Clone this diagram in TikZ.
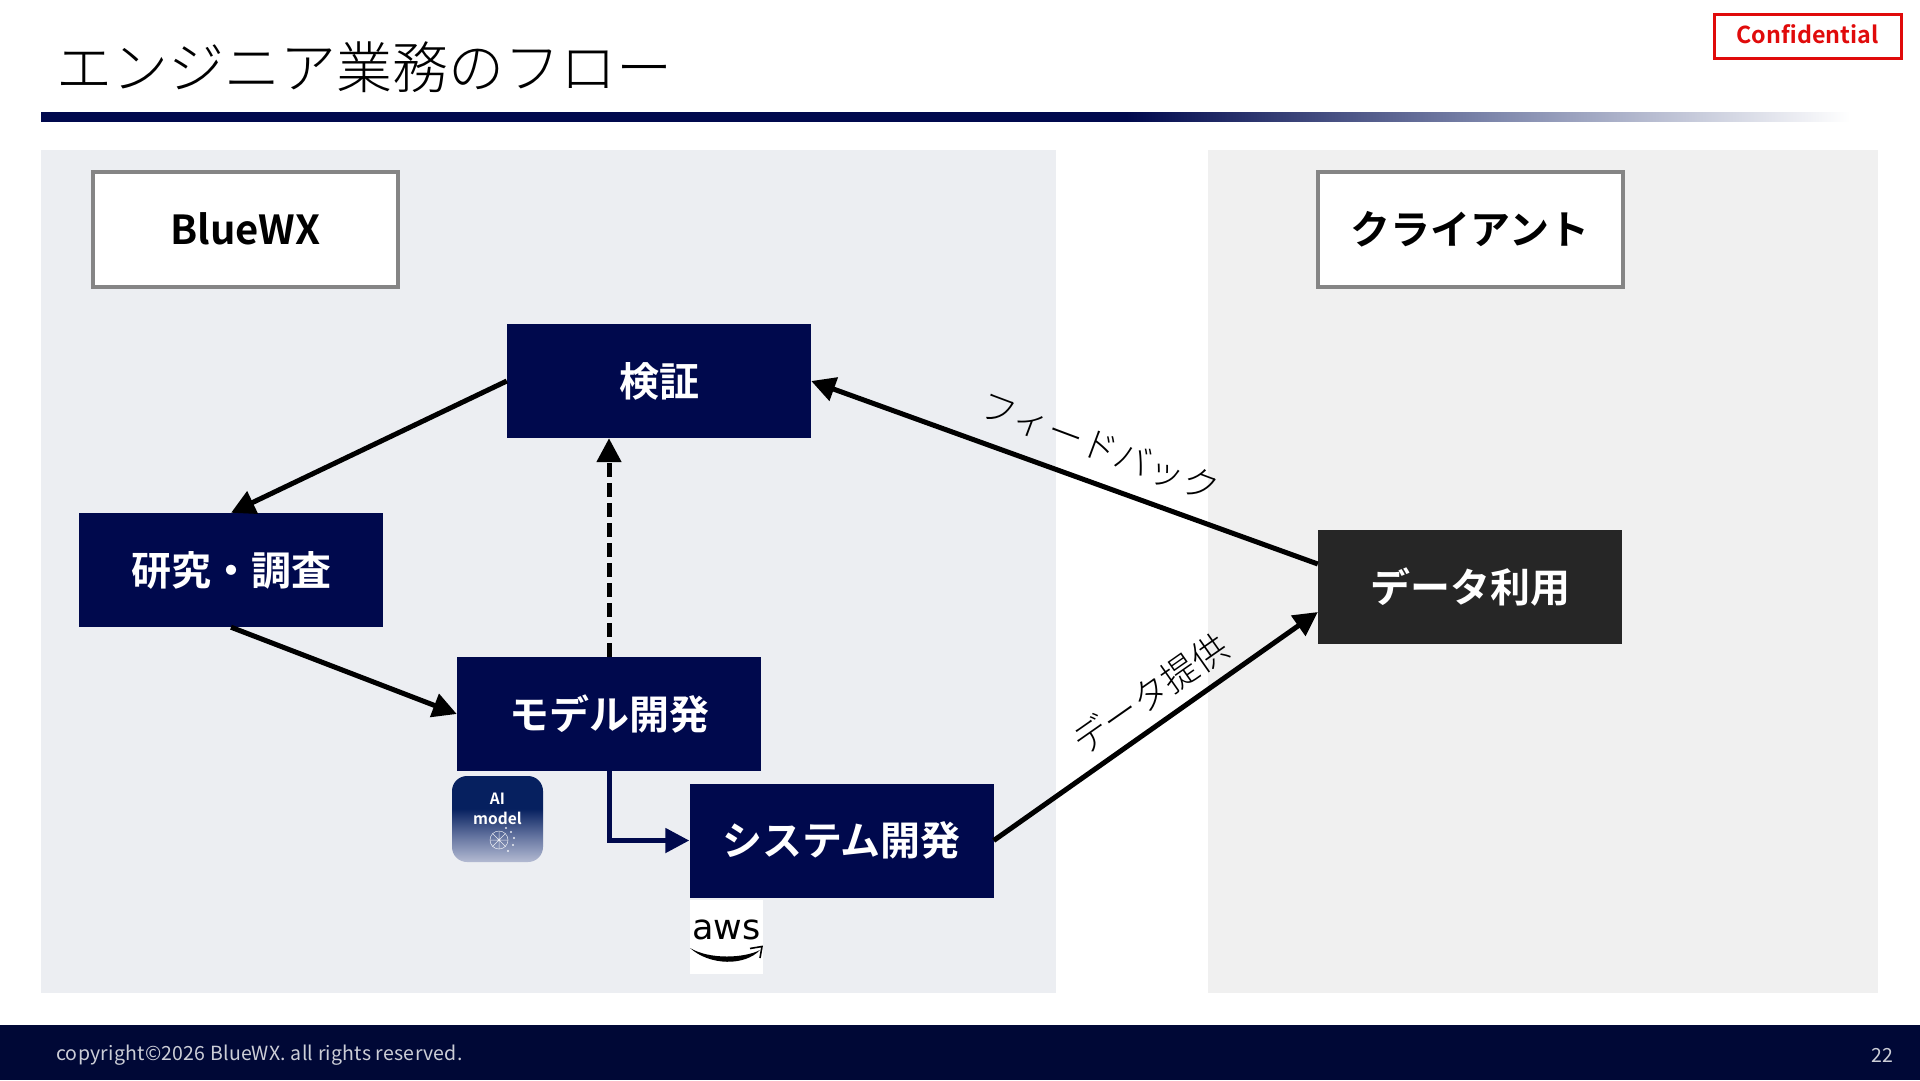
\documentclass[tikz,border=0pt]{standalone}
\usepackage{fontspec}
\usetikzlibrary{arrows.meta,calc}
\setmainfont{Noto Sans CJK JP}
\newfontfamily\jpbold{Noto Sans CJK JP Bold}
\newfontfamily\jplight{Noto Sans CJK JP Light}
\newfontfamily\jpreg{Noto Sans CJK JP}[LetterSpace=1.3]
\newfontfamily\awsfont{DejaVu Sans}
\definecolor{navy}{HTML}{00094D}
\definecolor{barmid}{HTML}{8089AD}
\definecolor{foot}{HTML}{000836}
\definecolor{panelL}{HTML}{ECEEF2}
\definecolor{panelR}{HTML}{F0F0F0}
\definecolor{dark}{HTML}{262626}
\definecolor{frameg}{HTML}{858585}
\definecolor{conf}{HTML}{E00B0B}
\definecolor{icontop}{HTML}{06205F}
\definecolor{iconmid}{HTML}{6474A0}
\definecolor{iconlow}{HTML}{B3BAD2}
\pgfdeclarehorizontalshading{barfade}{100bp}{color(0bp)=(navy);color(55bp)=(navy);color(65.3bp)=(barmid);color(75bp)=(white);color(100bp)=(white)}
\pgfdeclareverticalshading{iconfade}{100bp}{color(0bp)=(iconlow);color(25bp)=(iconlow);color(40bp)=(iconmid);color(56bp)=(icontop);color(100bp)=(icontop)}
\tikzset{
  x=1pt,y=-1pt,
  flowbox/.style={fill=navy,text=white,minimum width=304pt,minimum height=114pt,inner sep=0pt,font=\jpbold\fontsize{40}{40}\selectfont},
  hdrbox/.style={draw=frameg,line width=4pt,fill=white,text=black,minimum width=305pt,minimum height=115pt,inner sep=0pt,font=\jpbold\fontsize{40}{40}\selectfont},
  flowline/.style={line width=5pt,draw=black,-{Triangle[length=24pt,width=24pt]}},
  edgelabel/.style={inner sep=0pt,font=\jplight\fontsize{36}{36}\selectfont,text=black},
}
\begin{document}
\begin{tikzpicture}
\useasboundingbox (0,0) rectangle (1920,1080);
\fill[white] (0,0) rectangle (1920,1080);
% panels
\fill[panelL] (41,150) rectangle (1056,993);
\fill[panelR] (1208,150) rectangle (1878,993);
% title
\node[anchor=west,inner sep=0pt,font=\jplight\fontsize{56}{56}\selectfont] (title) at (56,67) {エンジニア業務のフロー};
\shade[shading=barfade] (41,112) rectangle (1850,121);
% confidential
\node[draw=conf,line width=3pt,text=conf,minimum width=187pt,minimum height=44pt,inner sep=0pt,font=\jpbold\fontsize{23.3}{23.3}\selectfont] (conf) at (1807.5,36) {\raisebox{3.5pt}{Confidential}};
% headers
\node[hdrbox] (blue) at (245.5,229.5) {\raisebox{1.2pt}{BlueWX}};
\node[hdrbox] (client) at (1470,229.5) {\raisebox{1.2pt}{クライアント}};
% flow
\node[flowbox] (kensho) at (659,381) {検証};
\node[flowbox] (kenkyu) at (231,570) {\raisebox{1.2pt}{研究・調査}};
\node[flowbox] (model) at (609,714) {モデル開発};
\node[flowbox] (system) at (841.5,840.5) {システム開発};
\node[flowbox,fill=dark] (data) at (1470,587) {\raisebox{3.2pt}{データ利用}};
% connectors
\draw[flowline] (kensho.west) -- (kenkyu.north);
\draw[flowline] (kenkyu.south) -- (model.west);
\draw[flowline,dash pattern=on 14pt off 6pt] (model.north) -- (model.north |- kensho.south);
\draw[flowline,draw=navy] (model.south) |- (system.west);
\coordinate (dataIn) at ([yshift=-25pt]data.west);
\coordinate (dataOut) at ([yshift=23pt]data.west);
\draw[flowline] (system.east) -- (dataIn);
\draw[flowline] (dataOut) -- (kensho.east);
\node[edgelabel,rotate=-20.5] (lblfb) at (1100,447) {フィードバック};
\node[edgelabel,rotate=35] (lbldata) at (1150,694) {データ提供};
% AI icon
\shade[rounded corners=15pt,shading=iconfade] (452,776) rectangle (543,862);
\node[inner sep=0pt,text=white,align=center,font=\jpbold\fontsize{15.5}{20}\selectfont] (ailabel) at (497.5,809) {AI\\model};
\begin{scope}[white,line width=0.5pt,opacity=.85]
  \draw (499,840) circle (9pt);
  \draw (490,840) -- (508,840) (499,831) -- (499,849) (492.6,833.6) -- (505.4,846.4) (505.4,833.6) -- (492.6,846.4);
  \fill (511,832) circle (1.2pt) (514,838) circle (1.2pt) (513,845) circle (1.2pt) (508,851) circle (1.2pt) (506,828) circle (1.2pt);
\end{scope}
% aws
\fill[white] (690,900) rectangle (763,974);
\node[inner sep=0pt,font=\awsfont\fontsize{35}{35}\selectfont] (aws) at (726.5,930) {aws};
\fill[black] (690,948) .. controls (710,966) and (745,966) .. (760,950) .. controls (745,958) and (710,960) .. (690,948) -- cycle;
\draw[black,line width=1.6pt] (750,948.5) -- (762,946.5) -- (760,958);
% footer
\fill[foot] (0,1025) rectangle (1920,1080);
\node[anchor=west,inner sep=0pt,text=white!80!foot,font=\jpreg\fontsize{19.5}{19.5}\selectfont] (copy) at (56,1055) {copyright©2026 BlueWX. all rights reserved.};
\node[anchor=east,inner sep=0pt,text=white!80!foot,font=\jpreg\fontsize{19.5}{19.5}\selectfont] (page) at (1894,1055) {22};
\end{tikzpicture}
\end{document}
